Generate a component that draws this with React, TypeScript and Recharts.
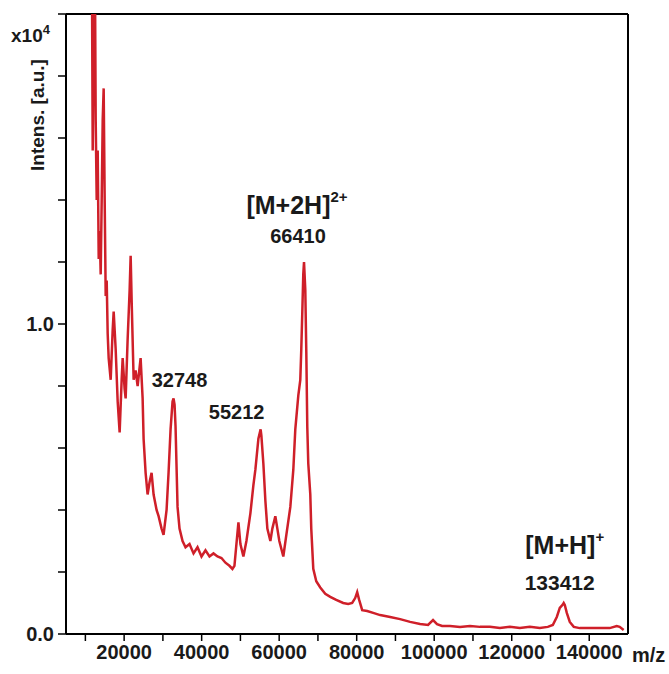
import React from "react";
import {
  LineChart,
  Line,
  XAxis,
  YAxis,
  ReferenceLine,
  ReferenceDot,
} from "recharts";

// m/z values
const mz = [
  11630, 11890, 12150, 12400, 12660, 12920, 13180, 13440, 13690, 13950,
  14210, 14470, 14720, 14980, 15240, 15500, 15750, 16010, 16530, 17040,
  17300, 17810, 18330, 18840, 19360, 19620, 20130, 20390, 20900, 21420,
  21680, 21930, 22450, 22960, 23480, 24250, 24770, 25020, 25540, 26050,
  26570, 27080, 27600, 28370, 28890, 29660, 30170, 30950, 31460, 31980,
  32490, 32748, 33010, 33260, 33780, 34290, 35070, 35840, 36870, 37900,
  38930, 39960, 40990, 42020, 43050, 44080, 45110, 46140, 47170, 47940,
  48460, 48970, 49490, 50000, 50770, 51550, 52580, 53350, 53860, 54640,
  55212, 55410, 55920, 56440, 56950, 57730, 58240, 59010, 59530, 60040,
  61070, 61850, 62880, 63650, 64160, 64940, 65450, 65710, 65970, 66220,
  66410, 66740, 67000, 67250, 67510, 68030, 68280, 68800, 69570, 70600,
  71890, 73180, 74720, 76520, 77810, 78840, 79610, 80130, 80640, 81420,
  82700, 84250, 86050, 88630, 91200, 93780, 96350, 98410, 99700, 100730,
  102020, 104080, 106650, 109230, 111800, 114380, 116950, 119530, 122100, 124680,
  127250, 129310, 130600, 131630, 132400, 133170, 133412, 133690, 134210, 134980,
  136010, 137550, 140130, 142700, 145280, 147080, 147850, 148880,
];

// intensity in units of 10^4 a.u.
const intensity = [
  2.3, 1.56, 1.92, 2.3, 1.66, 1.4, 1.56, 1.21, 1.3, 1.16,
  1.4, 1.66, 1.76, 1.4, 1.09, 1.14, 0.97, 0.89, 0.82, 0.98,
  1.04, 0.92, 0.75, 0.65, 0.82, 0.89, 0.79, 0.76, 0.95, 1.11,
  1.22, 1.08, 0.82, 0.85, 0.8, 0.89, 0.76, 0.63, 0.52, 0.45,
  0.49, 0.52, 0.45, 0.4, 0.38, 0.34, 0.32, 0.4, 0.52, 0.66,
  0.75, 0.76, 0.74, 0.67, 0.41, 0.34, 0.3, 0.28, 0.29, 0.26,
  0.28, 0.25, 0.27, 0.25, 0.26, 0.25, 0.245, 0.23, 0.22, 0.21,
  0.22, 0.29, 0.36, 0.29, 0.25, 0.3, 0.39, 0.48, 0.53, 0.63,
  0.66, 0.64, 0.55, 0.43, 0.34, 0.3, 0.34, 0.38, 0.34, 0.3,
  0.25, 0.32, 0.41, 0.53, 0.66, 0.77, 0.82, 0.92, 1.04, 1.16,
  1.2, 1.11, 0.91, 0.67, 0.55, 0.45, 0.34, 0.21, 0.17, 0.15,
  0.13, 0.12, 0.11, 0.1, 0.097, 0.1, 0.116, 0.135, 0.11, 0.077,
  0.074, 0.068, 0.061, 0.055, 0.048, 0.039, 0.032, 0.029, 0.045, 0.032,
  0.026, 0.026, 0.023, 0.026, 0.023, 0.023, 0.019, 0.023, 0.019, 0.023,
  0.019, 0.023, 0.029, 0.055, 0.084, 0.095, 0.1, 0.094, 0.068, 0.039,
  0.023, 0.019, 0.019, 0.019, 0.019, 0.026, 0.023, 0.013,
];

const xTicks = [
  10000, 20000, 30000, 40000, 50000, 60000, 70000, 80000, 90000, 100000,
  110000, 120000, 130000, 140000,
];
const yTicks = [0, 0.2, 0.4, 0.6, 0.8, 1.0, 1.2, 1.4, 1.6, 1.8, 2.0];
const yLabelled = [0, 1.0];

// peak annotations: peak position, text, pixel offset of label centre
const peakMz = [32748, 55212, 66410, 66410, 133412, 133412];
const peakIntensity = [0.76, 0.66, 1.2, 1.2, 0.1, 0.1];
const peakText = ["32748", "55212", "66410", "[M+2H]", "133412", "[M+H]"];
const peakSup = ["", "", "", "2+", "", "+"];

const labelStyle = [
  { dx: 6, dy: -18, size: 20 },
  { dx: -24, dy: -17, size: 20 },
  { dx: -6, dy: -26, size: 20 },
  { dx: -7, dy: -57, size: 25 },
  { dx: -4, dy: -21, size: 21 },
  { dx: 1, dy: -58, size: 25 },
];

const data = mz.map((m, i) => ({ mz: m, intensity: intensity[i] }));

const FONT = "'Liberation Sans', Arial, sans-serif";
const INK = "#1a1a1a";
const RED = "#cf1f29";

function PeakLabel(props: any) {
  const { viewBox, idx } = props;
  const st = labelStyle[idx];
  const cx = viewBox.x + viewBox.width / 2 + st.dx;
  const cy = viewBox.y + viewBox.height / 2 + st.dy;
  return (
    <text
      x={cx}
      y={cy}
      textAnchor="middle"
      dominantBaseline="central"
      fontFamily={FONT}
      fontSize={st.size}
      fontWeight="bold"
      fill={INK}
    >
      <tspan>{peakText[idx]}</tspan>
      {peakSup[idx] && (
        <tspan dy={-9} fontSize={15}>
          {peakSup[idx]}
        </tspan>
      )}
    </text>
  );
}

function YTitle(props: any) {
  const { viewBox } = props;
  const x = viewBox.x;
  const y = viewBox.y;
  return (
    <g fontFamily={FONT} fontWeight="bold" fill={INK}>
      <text x={x + 11} y={y + 28} fontSize={19}>
        x10
        <tspan dy={-8} fontSize={13}>
          4
        </tspan>
      </text>
      <text
        x={x + 37}
        y={y + 101}
        fontSize={19}
        textAnchor="middle"
        dominantBaseline="central"
        transform={`rotate(-90 ${x + 37} ${y + 101})`}
      >
        Intens. [a.u.]
      </text>
    </g>
  );
}

function XTitle(props: any) {
  const { viewBox } = props;
  return (
    <text
      x={viewBox.x + viewBox.width + 4}
      y={viewBox.y + 21}
      dominantBaseline="central"
      fontFamily={FONT}
      fontWeight="bold"
      fontSize={20}
      fill={INK}
    >
      m/z
    </text>
  );
}

export default function App() {
  return (
    <div style={{ position: "absolute", left: 0, top: 0, background: "#fff" }}>
      <LineChart
        width={669}
        height={674}
        data={data}
        margin={{ top: 14, right: 41, bottom: 0, left: 0 }}
      >
        <XAxis
          type="number"
          dataKey="mz"
          domain={[5000, 150000]}
          allowDataOverflow
          ticks={xTicks}
          interval={0}
          tickFormatter={(v: number) => (v % 20000 === 0 ? String(v) : "")}
          height={40}
          tickSize={7}
          tickMargin={4}
          axisLine={{ stroke: "#000", strokeWidth: 2 }}
          tickLine={{ stroke: "#000", strokeWidth: 1.5 }}
          tick={{ fill: INK, fontSize: 20, fontWeight: "bold", fontFamily: FONT }}
          label={{ content: XTitle }}
        />
        <YAxis
          type="number"
          domain={[0, 2]}
          allowDataOverflow
          ticks={yTicks}
          interval={0}
          tickFormatter={(v: number) =>
            yLabelled.includes(v) ? v.toFixed(1) : ""
          }
          width={66}
          tickSize={8}
          tickMargin={4}
          axisLine={{ stroke: "#000", strokeWidth: 2 }}
          tickLine={{ stroke: "#000", strokeWidth: 1.5 }}
          tick={{ fill: INK, fontSize: 20, fontWeight: "bold", fontFamily: FONT }}
          label={{ content: YTitle }}
        />
        <ReferenceLine y={2} stroke="#000" strokeWidth={2} />
        <ReferenceLine x={150000} stroke="#000" strokeWidth={2} />
        <Line
          type="linear"
          dataKey="intensity"
          stroke={RED}
          strokeWidth={2.5}
          dot={false}
          isAnimationActive={false}
        />
        {peakMz.map((m, i) => (
          <ReferenceDot
            key={i}
            x={m}
            y={peakIntensity[i]}
            r={0}
            stroke="none"
            fill="none"
            label={{ content: (p: any) => <PeakLabel {...p} idx={i} /> }}
          />
        ))}
      </LineChart>
    </div>
  );
}
